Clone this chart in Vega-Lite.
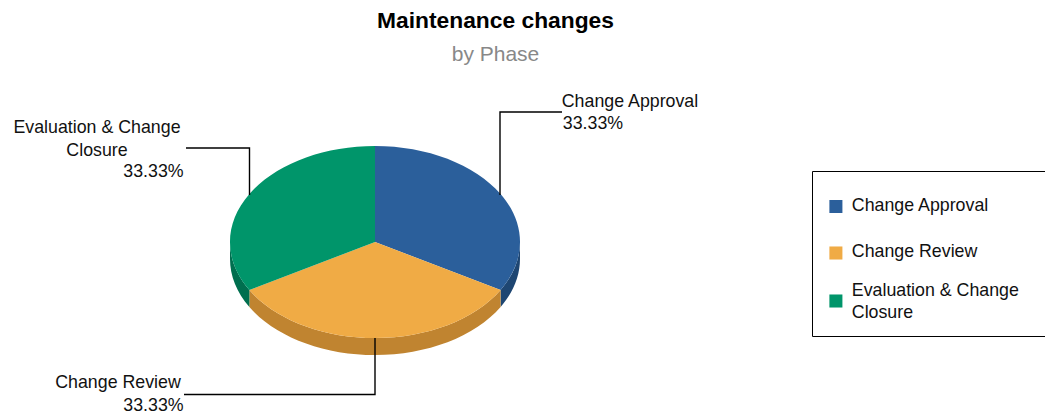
{
"$schema":"https://vega.github.io/schema/vega-lite/v6.json",
"width":1045,"height":415,"padding":0,"autosize":{"type":"none"},
"background":"white",
"config":{"view":{"stroke":null},"font":"Liberation Sans","text":{"font":"Liberation Sans"}},
"title":{"text":"Maintenance changes","subtitle":"by Phase","anchor":"middle","frame":"group","offset":-65,"dx":-27,"font":"Liberation Sans","fontSize":22.8,"fontWeight":"bold","color":"#000","subtitleFont":"Liberation Sans","subtitleFontSize":21,"subtitleColor":"#888888","subtitleFontWeight":"normal","subtitlePadding":11},
"data":{"values":[
{"phase":"Change Approval","label":"Change Approval","share":0.3333},
{"phase":"Change Review","label":"Change Review","share":0.3333},
{"phase":"Evaluation & Change Closure","label":"Evaluation & Change\nClosure","share":0.3333}
]},
"layer":[
{"mark":{"type":"point","filled":true,"opacity":0,"size":0,"strokeWidth":0},
 "encoding":{
  "color":{"field":"phase","type":"nominal","scale":{"domain":["Change Approval","Change Review","Evaluation & Change Closure"],"range":["#2b5f9b","#f0ab45","#00956a"]},
   "legend":{"title":" ","titleFontSize":1,"titlePadding":12,"orient":"none","legendX":812,"legendY":171,"symbolType":"square","symbolSize":170,"symbolStrokeWidth":0,"symbolOpacity":1,"symbolOffset":2,"labelFont":"Liberation Sans","labelFontSize":17.8,"labelColor":"#111","labelOffset":7,"labelLimit":400,"padding":13,"rowPadding":19.5,"strokeColor":"#000","fillColor":"#fff",
    "labelExpr":"datum.label == 'Evaluation & Change Closure' ? ['Evaluation & Change\u00a0\u00a0\u00a0\u00a0\u200b','Closure'] : (datum.label == 'Change Approval' ? ['Change Approval',''] : datum.label)",
    "encoding":{"labels":{"lineHeight":{"value":{"signal":"datum.value == 'Change Approval' ? 8 : 22.5"}}},"symbols":{"y":{"value":{"signal":"datum.value == 'Evaluation & Change Closure' ? 19 : 9.5"}}}}}}
 }},
{"mark":{"type":"point","filled":true,"opacity":1,"size":4,"strokeWidth":0},
 "encoding":{
  "shape":{"field":"phase","type":"nominal","legend":null,"scale":{"domain":["Change Approval","Change Review","Evaluation & Change Closure"],"range":[
   "M -2.5 34.5 A 145 96 0 0 1 -21.9 82.5 L -21.9 99.5 A 145 96 0 0 0 -2.5 51.5 Z",
   "M -21.9 82.5 A 145 96 0 0 1 -273.1 82.5 L -273.1 99.5 A 145 96 0 0 0 -21.9 99.5 Z",
   "M -273.1 82.5 A 145 96 0 0 1 -292.5 34.5 L -292.5 51.5 A 145 96 0 0 0 -273.1 99.5 Z"]}},
  "color":{"field":"phase","type":"nominal","legend":null,"scale":{"domain":["Change Approval","Change Review","Evaluation & Change Closure"],"range":["#1e4672","#c08430","#006f4f"]}}
 }},
{"mark":{"type":"point","filled":true,"opacity":1,"size":4,"strokeWidth":0},
 "encoding":{
  "shape":{"field":"phase","type":"nominal","legend":null,"scale":{"domain":["Change Approval","Change Review","Evaluation & Change Closure"],"range":[
   "M -147.5 34.5 L -147.5 -61.5 A 145 96 0 0 1 -21.9 82.5 Z",
   "M -147.5 34.5 L -21.9 82.5 A 145 96 0 0 1 -273.1 82.5 Z",
   "M -147.5 34.5 L -273.1 82.5 A 145 96 0 0 1 -147.5 -61.5 Z"]}},
  "color":{"field":"phase","type":"nominal","legend":null,"scale":{"domain":["Change Approval","Change Review","Evaluation & Change Closure"],"range":["#2b5f9b","#f0ab45","#00956a"]}}
 }},
{"mark":{"type":"point","filled":false,"opacity":1,"size":4,"stroke":"#000","strokeWidth":1.4},
 "encoding":{
  "shape":{"field":"phase","type":"nominal","legend":null,"scale":{"domain":["Change Approval","Change Review","Evaluation & Change Closure"],"range":[
   "M 39.5 -95.5 L -22.5 -95.5 L -22.5 -12.5",
   "M -147.5 130.5 L -147.5 187 L -338.5 187",
   "M -336.5 -59.5 L -273 -59.5 L -273 -12.5"]}}
 }},
{"transform":[{"filter":"datum.phase == 'Change Approval'"}],"mark":{"type":"text","fontSize":17.8,"color":"#111","align":"center","baseline":"middle","dx":107.5,"dy":-106},"encoding":{"text":{"field":"label"}}},
{"transform":[{"filter":"datum.phase == 'Change Approval'"}],"mark":{"type":"text","fontSize":17.8,"color":"#111","align":"center","baseline":"middle","dx":70.5,"dy":-83.5},"encoding":{"text":{"field":"share","format":".2%"}}},
{"transform":[{"filter":"datum.phase == 'Change Review'"}],"mark":{"type":"text","fontSize":17.8,"color":"#111","align":"center","baseline":"middle","dx":-404.5,"dy":175.5},"encoding":{"text":{"field":"label"}}},
{"transform":[{"filter":"datum.phase == 'Change Review'"}],"mark":{"type":"text","fontSize":17.8,"color":"#111","align":"center","baseline":"middle","dx":-369,"dy":198.5},"encoding":{"text":{"field":"share","format":".2%"}}},
{"transform":[{"filter":"datum.phase == 'Evaluation & Change Closure'"}],"mark":{"type":"text","fontSize":17.8,"color":"#111","align":"center","baseline":"middle","lineBreak":"\n","lineHeight":23,"dx":-425.5,"dy":-80},"encoding":{"text":{"field":"label"}}},
{"transform":[{"filter":"datum.phase == 'Evaluation & Change Closure'"}],"mark":{"type":"text","fontSize":17.8,"color":"#111","align":"center","baseline":"middle","dx":-369,"dy":-35.5},"encoding":{"text":{"field":"share","format":".2%"}}}
],
"resolve":{"scale":{"color":"independent","shape":"independent"}}
}
